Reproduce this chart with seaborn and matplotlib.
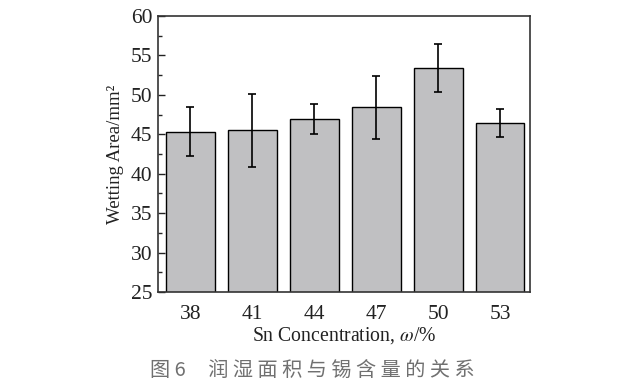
import pandas as pd
import seaborn as sns
import matplotlib.pyplot as plt
from matplotlib.ticker import MultipleLocator

concentration = ['38', '41', '44', '47', '50', '53']
wetting_area = [45.3, 45.5, 46.9, 48.4, 53.4, 46.4]
area_err = [3.1, 4.6, 1.9, 4.0, 3.0, 1.8]

sns.set_theme(style='white')
plt.rcParams['font.family'] = ['Liberation Serif', 'DejaVu Serif']
plt.rcParams['mathtext.fontset'] = 'stix'

df = pd.DataFrame({'conc': concentration, 'area': wetting_area, 'err': area_err})

fig = plt.figure(figsize=(6.4, 3.89), dpi=100)
ax = fig.add_axes([0.247, 0.249, 0.581, 0.710])

sns.barplot(data=df, x='conc', y='area', color='#c0c0c2', saturation=1,
            edgecolor='black', linewidth=1.0, width=0.785, errorbar=None, ax=ax)
ax.errorbar(range(len(df)), df['area'], yerr=df['err'], fmt='none',
            ecolor='black', elinewidth=1.2, capsize=3, capthick=1.2)

ax.set_ylim(25, 60)
ax.set_xlim(-0.52, 5.48)
ax.yaxis.set_major_locator(MultipleLocator(5))
ax.yaxis.set_minor_locator(MultipleLocator(2.5))
ax.tick_params(axis='y', which='major', direction='in', length=5, width=1,
               left=True, right=False, labelsize=15.5, colors='#222222', pad=4)
ax.tick_params(axis='y', which='minor', direction='in', length=3, width=1, left=True)
ax.tick_params(axis='x', bottom=False, labelsize=15.5, colors='#222222', pad=3)
for s in ax.spines.values():
    s.set_color('#333333')
    s.set_linewidth(1.2)

ax.set_xlabel(r'Sn Concentration, $\omega$/%', fontsize=14.2, color='#222222', labelpad=1)
ax.set_ylabel('Wetting Area/mm²', fontsize=13.5, color='#222222', labelpad=5)

fig.text(0.235, 0.048, '图 6     润 湿 面 积 与 锡 含 量 的 关 系', fontsize=14.5,
         color='#707070', family=['Noto Sans CJK SC', 'DejaVu Sans'], ha='left', va='center')

plt.savefig('out.png', dpi=100)
